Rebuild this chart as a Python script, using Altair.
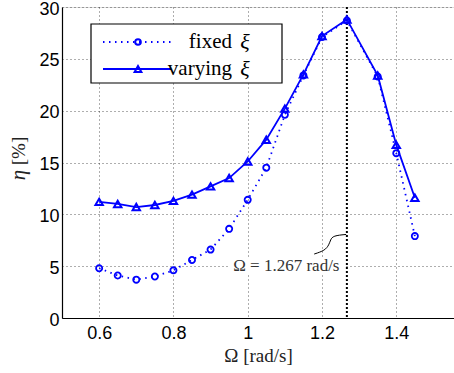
import altair as alt
import pandas as pd

omega = [0.6, 0.65, 0.7, 0.75, 0.8, 0.85, 0.9, 0.95, 1.0, 1.05, 1.1, 1.15, 1.2, 1.267, 1.35, 1.4, 1.45]
eta_fixed = [4.8, 4.1, 3.7, 4.0, 4.6, 5.6, 6.6, 8.6, 11.4, 14.5, 19.6, 23.4, 27.1, 28.7, 23.3, 15.9, 7.9]
eta_varying = [11.2, 11.0, 10.7, 10.9, 11.3, 11.9, 12.7, 13.5, 15.1, 17.2, 20.2, 23.5, 27.2, 28.8, 23.4, 16.7, 11.6]
omega_opt = 1.267
legend_words = ["fixed", "varying"]
legend_symbol = "\u03be"
annotation = "\u03a9 = 1.267 rad/s"
y_title_symbol = "\u03b7"
y_title_unit = "[%]"
leader_x = [1.179, 1.208, 1.219, 1.223, 1.230, 1.265]
leader_y = [6.17, 6.51, 7.07, 7.55, 7.94, 8.06]

BLUE = "#0000ff"
SERIF = "Liberation Serif"
SANS = "Liberation Sans"

df_f = pd.DataFrame({"x": omega, "y": eta_fixed})
df_v = pd.DataFrame({"x": omega, "y": eta_varying})

xs = alt.Scale(domain=[0.5, 1.5554], nice=False, zero=False)
ys = alt.Scale(domain=[0, 30], nice=False)

xax = alt.Axis(values=[0.6, 0.8, 1.0, 1.2, 1.4], labelExpr="datum.value == 1 ? '1' : format(datum.value, '.1f')",
               grid=True, gridDash=[1, 3], gridColor="black", gridOpacity=0.8, gridWidth=0.8,
               domainColor="black", domainWidth=1.2, ticks=False, labelFont=SANS, labelFontSize=18,
               labelColor="black", labelPadding=6, title="\u03a9 [rad/s]", titleFont=SERIF,
               titleFontSize=19, titleFontWeight="normal", titleColor="#222", titlePadding=4)
yax = alt.Axis(values=[0, 5, 10, 15, 20, 25, 30], grid=True, gridDash=[1, 3], gridColor="black",
               gridOpacity=0.8, gridWidth=0.8, domainColor="black", domainWidth=1.2, ticks=False,
               labelFont=SANS, labelFontSize=18, labelColor="black", labelPadding=3, labelOffset=2,
               title=None)

base_x = alt.X("x:Q", scale=xs, axis=xax)
base_y = alt.Y("y:Q", scale=ys, axis=yax)

one = pd.DataFrame({"a": [0]})

line_f = alt.Chart(df_f).mark_line(color=BLUE, strokeWidth=1.8, strokeDash=[1.5, 4.5]).encode(x=base_x, y=base_y)
pts_f = alt.Chart(df_f).mark_point(shape="circle", color=BLUE, filled=False, size=38, strokeWidth=1.8, opacity=1).encode(
    x=alt.X("x:Q", scale=xs), y=alt.Y("y:Q", scale=ys))
line_v = alt.Chart(df_v).mark_line(color=BLUE, strokeWidth=1.8).encode(x=alt.X("x:Q", scale=xs), y=alt.Y("y:Q", scale=ys))
pts_v = alt.Chart(df_v).mark_point(shape="triangle-up", color=BLUE, filled=False, size=55, strokeWidth=2, opacity=1).encode(
    x=alt.X("x:Q", scale=xs), y=alt.Y("y:Q", scale=ys))

vline = alt.Chart(pd.DataFrame({"x": [omega_opt]})).mark_rule(color="black", strokeWidth=2, strokeDash=[2, 2]).encode(
    x=alt.X("x:Q", scale=xs), y=alt.value(0), y2=alt.value(311))

ann_bg = alt.Chart(one).mark_rect(color="white").encode(
    x=alt.datum(0.948, scale=xs), x2=alt.datum(1.262), y=alt.datum(4.2, scale=ys), y2=alt.datum(5.8))
ann_txt = alt.Chart(pd.DataFrame({"t": [annotation]})).mark_text(
    font=SERIF, fontSize=17, color="#333", align="center", baseline="middle").encode(
    x=alt.datum(1.104, scale=xs), y=alt.datum(5.0, scale=ys), text="t:N")
leader = alt.Chart(pd.DataFrame({"x": leader_x, "y": leader_y, "o": range(len(leader_x))})).mark_line(
    color="black", strokeWidth=1, interpolate="basis").encode(
    x=alt.X("x:Q", scale=xs), y=alt.Y("y:Q", scale=ys), order="o:Q")

# y-axis title (italic eta + unit), drawn in plot-area pixel space
yt_sym = alt.Chart(pd.DataFrame({"t": [y_title_symbol]})).mark_text(
    font=SERIF, fontSize=21, fontStyle="italic", color="#222", angle=270, align="center", baseline="middle").encode(
    x=alt.value(-43), y=alt.value(168), text="t:N")
yt_unit = alt.Chart(pd.DataFrame({"t": [y_title_unit]})).mark_text(
    font=SERIF, fontSize=19, color="#222", angle=270, align="center", baseline="middle").encode(
    x=alt.value(-43), y=alt.value(144), text="t:N")

# legend (drawn in plot-area pixel space)
leg_box = alt.Chart(one).mark_rect(fill="white", stroke="black", strokeWidth=1.2).encode(
    x=alt.value(29), x2=alt.value(220), y=alt.value(17), y2=alt.value(76))
leg_l1 = alt.Chart(one).mark_rule(color=BLUE, strokeWidth=1.8, strokeDash=[1.5, 4.5]).encode(
    x=alt.value(41), x2=alt.value(109), y=alt.value(35))
leg_m1 = alt.Chart(one).mark_point(shape="circle", color=BLUE, filled=False, size=32, strokeWidth=2, opacity=1).encode(
    x=alt.value(76), y=alt.value(35))
leg_l2 = alt.Chart(one).mark_rule(color=BLUE, strokeWidth=1.8).encode(
    x=alt.value(41), x2=alt.value(109), y=alt.value(62))
leg_m2 = alt.Chart(one).mark_point(shape="triangle-up", color=BLUE, filled=False, size=45, strokeWidth=2, opacity=1).encode(
    x=alt.value(76), y=alt.value(62))
leg_t = alt.Chart(pd.DataFrame({"t": legend_words, "yy": [35, 62]})).mark_text(
    font=SERIF, fontSize=21, color="black", align="right", baseline="middle").encode(
    x=alt.value(170), y=alt.Y("yy:Q", scale=None), text="t:N")
leg_s = alt.Chart(pd.DataFrame({"t": [legend_symbol, legend_symbol], "yy": [35, 62]})).mark_text(
    font=SERIF, fontSize=22, fontStyle="italic", color="black", align="center", baseline="middle").encode(
    x=alt.value(183), y=alt.Y("yy:Q", scale=None), text="t:N")

chart = alt.layer(
    line_f, ann_bg, ann_txt, leader, vline, pts_f, line_v, pts_v,
    yt_sym, yt_unit,
    leg_box, leg_l1, leg_m1, leg_l2, leg_m2, leg_t, leg_s
).properties(
    width=392, height=311,
    autosize=alt.AutoSizeParams(type="none"),
    padding={"left": 62, "top": 7, "right": 0, "bottom": 55},
).configure_view(stroke="black", strokeWidth=1.2).configure(background="white")

chart.save("out.html", embed_options={"renderer": "svg", "actions": False})
